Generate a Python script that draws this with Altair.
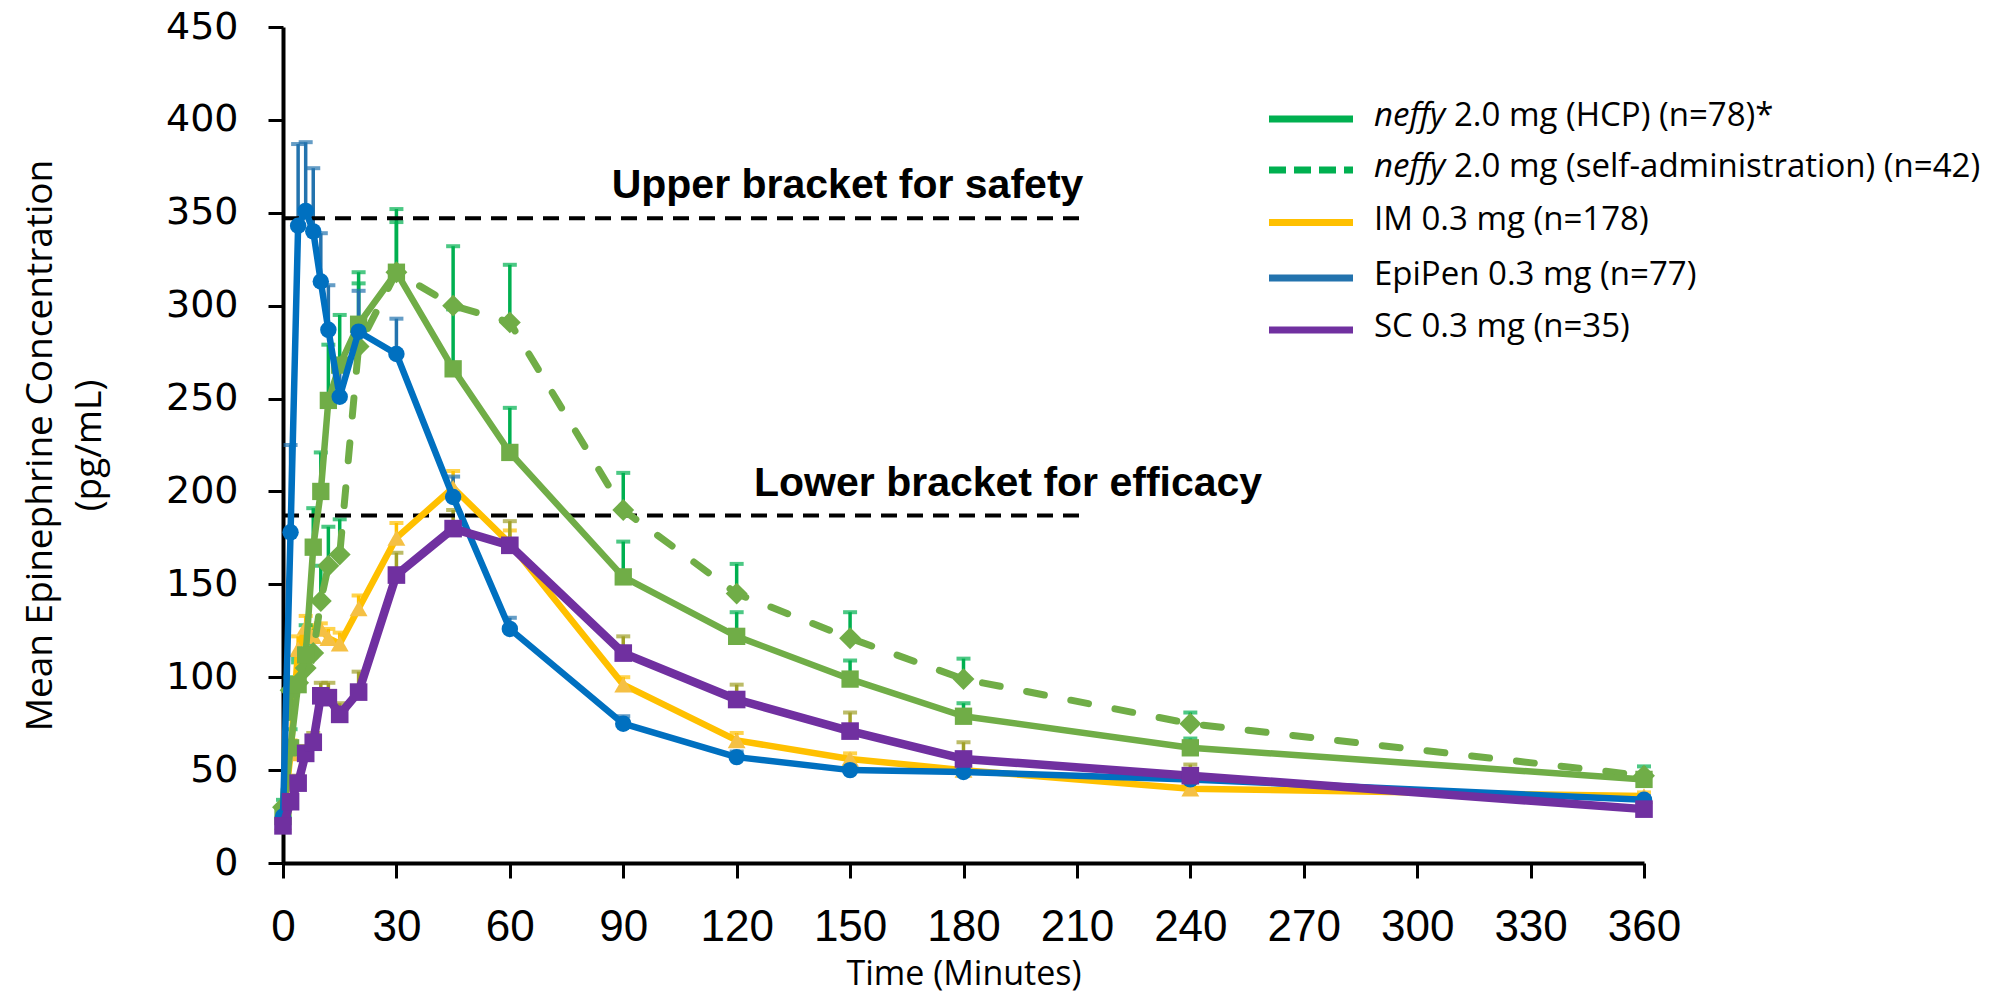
import altair as alt
import pandas as pd

# ---------------- data ----------------
TIMES = [0, 2, 4, 6, 8, 10, 12, 15, 20, 30, 45, 60, 90, 120, 150, 180, 240, 360]

HCP_MEAN = [25, 62, 96, 112, 170, 200, 249, 268, 290, 318, 266, 221, 154, 122, 99, 79, 62, 45]
HCP_UPPER = [30, 72, 110, 128, 191, 221, 279, 295, 318, 352, 298, 245, 173, 135, 109, 86, 67, 48]

SELF_MEAN = [30, 93, 97, 105, 113, 141, 160, 166, 278, 318, 300, 291, 190, 145, 121, 99, 75, 47]
SELF_UPPER = [34, 100, 108, 118, 125, 160, 181, 185, 312, 345, 332, 322, 210, 161, 135, 110, 81, 52]

IM_MEAN = [22, 59, 115, 127, 122, 126, 121, 118, 137, 175, 202, 172, 96, 66, 56, 50, 40, 36]
IM_UPPER = [25, 66, 122, 133, 128, 129, 126, 124, 144, 183, 211, 179, 100, 70, 59, 52, 43, 38]

EPI_MEAN = [25, 178, 343, 351, 340, 313, 287, 251, 286, 274, 197, 126, 75, 57, 50, 49, 45, 34]
EPI_UPPER = [30, 225, 387, 388, 374, 339, 311, 268, 308, 293, 208, 132, 79, 60, 52, 51, 47, 36]

SC_MEAN = [20, 33, 43, 59, 65, 90, 89, 80, 92, 155, 180, 171, 113, 88, 71, 56, 47, 29]
SC_UPPER = [22, 36, 47, 63, 70, 97, 97, 86, 103, 167, 190, 184, 122, 96, 81, 65, 53, 31]

SERIES = ["HCP", "SELF", "IM", "EPI", "SC"]
LEGEND_ITALIC = ["neffy", "neffy", "", "", ""]
LEGEND_TEXT = ["2.0 mg (HCP) (n=78)*", "2.0 mg (self-administration) (n=42)",
               "IM 0.3 mg (n=178)", "EpiPen 0.3 mg (n=77)", "SC 0.3 mg (n=35)"]

BRACKET_VALUES = [347, 187]
BRACKET_END = 212
BRACKET_LABELS = ["Upper bracket for safety", "Lower bracket for efficacy"]
BRACKET_LABEL_X = [211.7, 259]
BRACKET_LABEL_Y = [358, 197.5]

X_TICKS = list(range(0, 361, 30))
Y_TICKS = list(range(0, 451, 50))

# ---------------- styles ----------------
GREEN = "#70AD47"
GREEN_ERR = "#00B050"
YELLOW = "#FFC000"
YELLOW_MARK = "#F5C044"
BLUE = "#0070C0"
BLUE_ERR = "#2373AE"
PURPLE = "#7030A0"
PURPLE_ERR = "#A0A028"
LEGEND_COLORS = ["#00B050", "#00B050", "#FFC000", "#2373AE", "#7030A0"]

NARROW = "Liberation Sans Narrow, Liberation Sans, sans-serif"
W, H = 1361, 836
TOP = 19

rows = []
for name, means, uppers in [("HCP", HCP_MEAN, HCP_UPPER), ("SELF", SELF_MEAN, SELF_UPPER),
                            ("IM", IM_MEAN, IM_UPPER), ("EPI", EPI_MEAN, EPI_UPPER),
                            ("SC", SC_MEAN, SC_UPPER)]:
    for t, m, u in zip(TIMES, means, uppers):
        rows.append({"series": name, "time": t, "mean": m, "upper": u})
df = pd.DataFrame(rows)

X_AXIS = alt.Axis(values=X_TICKS, grid=False, domainColor="black", domainWidth=4,
                  tickColor="black", tickWidth=3, tickSize=15,
                  labelFont=NARROW, labelFontSize=44, labelColor="black", labelPadding=27,
                  labelFlush=False, labelOverlap=False,
                  titleFont="Open Sans", titleFontSize=34, titleFontWeight="normal",
                  titleColor="black", titleY=111, titleBaseline="middle")
Y_AXIS = alt.Axis(values=Y_TICKS, grid=False, domainColor="black", domainWidth=4,
                  tickColor="black", tickWidth=3, tickSize=15,
                  labelFont="DejaVu Sans", labelFontSize=38, labelColor="black", labelPadding=30,
                  labelFlush=False, labelOverlap=False,
                  titleFont="Open Sans", titleFontSize=37, titleFontWeight="normal",
                  titleColor="black", titleAngle=270, titleX=-243, titleY=H / 2,
                  titleAlign="center", titleBaseline="middle", titleLineHeight=49)
X_TITLE = "Time (Minutes)"
Y_TITLE = ["Mean Epinephrine Concentration", "(pg/mL)"]


def xenc(field):
    return alt.X(f"{field}:Q", scale=alt.Scale(domain=[0, 360], nice=False, zero=False),
                 axis=X_AXIS, title=X_TITLE)


def yenc(field):
    return alt.Y(f"{field}:Q", scale=alt.Scale(domain=[0, 450], nice=False),
                 axis=Y_AXIS, title=Y_TITLE)


def errors(name, color):
    base = alt.Chart(df).transform_filter(alt.datum.series == name)
    rule = base.mark_rule(color=color, strokeWidth=3.5).encode(
        x=xenc("time"), y=yenc("mean"), y2="upper:Q")
    cap = base.mark_tick(color=color, thickness=4, size=14, orient="horizontal").encode(
        x=xenc("time"), y=yenc("upper"))
    return [rule, cap]


def series(name, color, mcolor, shape, msize, lw, dash=None):
    base = alt.Chart(df).transform_filter(alt.datum.series == name)
    kw = dict(color=color, strokeWidth=lw, strokeJoin="round")
    if dash is not None:
        kw["strokeDash"] = dash
        kw["strokeCap"] = "round"
    line = base.mark_line(**kw).encode(x=xenc("time"), y=yenc("mean"))
    pts = base.mark_point(filled=True, shape=shape, size=msize, color=mcolor, opacity=1).encode(
        x=xenc("time"), y=yenc("mean"))
    return [line, pts]


layers = []
layers += errors("IM", YELLOW)
layers += errors("SELF", GREEN_ERR)
layers += errors("HCP", GREEN_ERR)
layers += errors("EPI", BLUE_ERR)
layers += errors("SC", PURPLE_ERR)

# bracket lines and labels
br = pd.DataFrame({"x0": [0] * len(BRACKET_VALUES), "x1": [BRACKET_END] * len(BRACKET_VALUES),
                   "val": BRACKET_VALUES, "tx": BRACKET_LABEL_X, "ty": BRACKET_LABEL_Y,
                   "label": BRACKET_LABELS})
layers.append(alt.Chart(br).mark_rule(color="black", strokeWidth=4, strokeDash=[16, 10]).encode(
    x=xenc("x0"), x2="x1:Q", y=yenc("val")))
layers.append(alt.Chart(br).mark_text(font="Liberation Sans", fontWeight="bold", fontSize=41,
                                      align="right", baseline="alphabetic", color="black").encode(
    x=xenc("tx"), y=yenc("ty"), text="label:N"))

layers += series("IM", YELLOW, YELLOW_MARK, "triangle-up", 320, 6.5)
layers += series("SELF", GREEN, GREEN, "diamond", 480, 7, dash=[18, 27])
layers += series("HCP", GREEN, GREEN, "square", 300, 6.5)
layers += series("EPI", BLUE, BLUE, "circle", 270, 6.5)
layers += series("SC", PURPLE, PURPLE, "square", 310, 8.5)

# legend (drawn as decoration, positions in plot pixels)
one = pd.DataFrame({"a": [0]})
LEG_X0, LEG_X1, LEG_TX, LEG_OFF = 986, 1070, 1091, 80
LEG_Y = [v - (TOP - 16) for v in [95, 146, 198.5, 254, 306]]
for i in range(len(SERIES)):
    kw = dict(color=LEGEND_COLORS[i], strokeWidth=7)
    if SERIES[i] == "SELF":
        kw["strokeDash"] = [17, 8]
    layers.append(alt.Chart(one).mark_rule(**kw).encode(
        x=alt.value(LEG_X0), x2=alt.value(LEG_X1), y=alt.value(LEG_Y[i])))
    tx = LEG_TX
    if LEGEND_ITALIC[i]:
        layers.append(alt.Chart(one).mark_text(font="Open Sans", fontSize=33, fontStyle="italic",
                                               align="left", baseline="middle", color="black",
                                               text=LEGEND_ITALIC[i]).encode(
            x=alt.value(LEG_TX), y=alt.value(LEG_Y[i] - 3)))
        tx = LEG_TX + LEG_OFF
    layers.append(alt.Chart(one).mark_text(font="Open Sans", fontSize=33,
                                           align="left", baseline="middle", color="black",
                                           text=LEGEND_TEXT[i]).encode(
        x=alt.value(tx), y=alt.value(LEG_Y[i] - 3)))

chart = alt.layer(*layers).properties(
    width=W, height=H,
    autosize=alt.AutoSizeParams(type="none"),
    padding={"left": 275, "top": TOP, "right": 355, "bottom": 133},
    background="white",
).configure_view(strokeWidth=0)

chart.save("out.html", embed_options={"renderer": "svg", "actions": False})
